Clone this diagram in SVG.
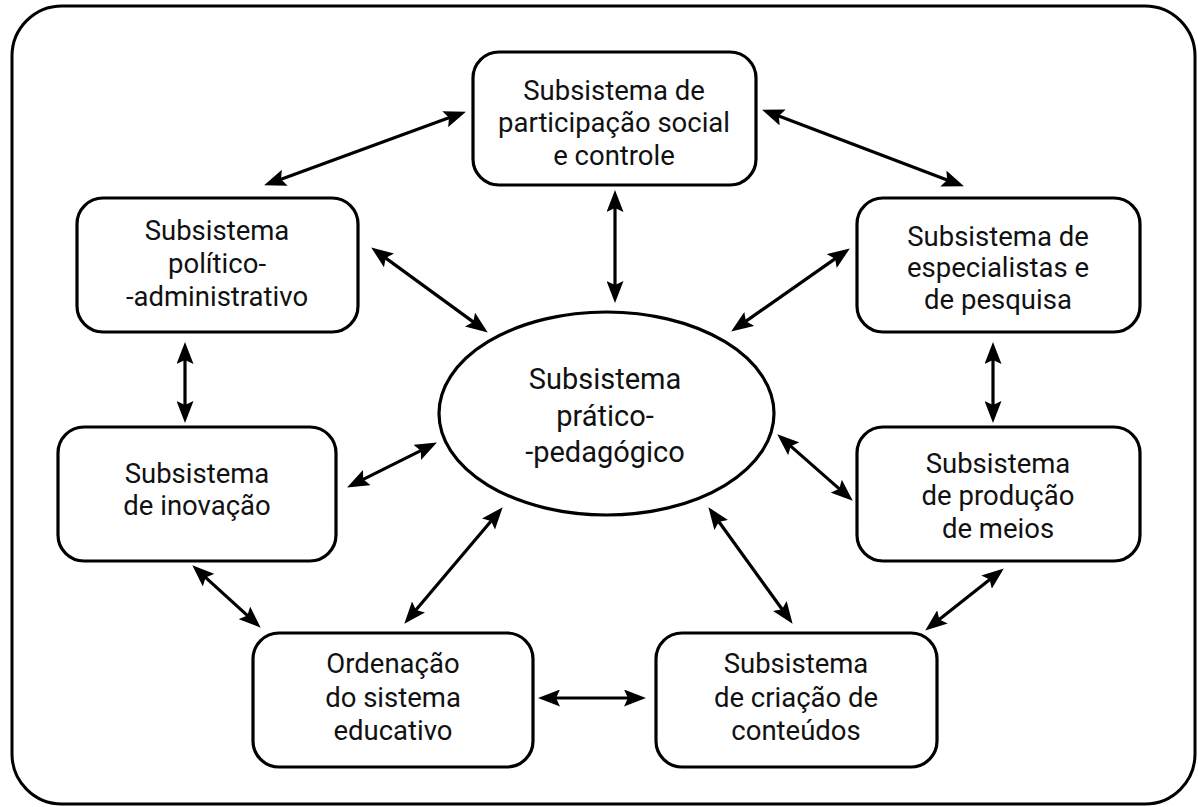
<svg xmlns="http://www.w3.org/2000/svg" width="1198" height="807" viewBox="0 0 1198 807">
<style>
.frame{fill:#fff;stroke:#000;stroke-width:3}
.box{fill:#fff;stroke:#000;stroke-width:3.2}
.t{font-family:Roboto,"Liberation Sans",sans-serif;font-size:27.5px;fill:#111;text-anchor:middle}
.te{font-family:Roboto,"Liberation Sans",sans-serif;font-size:29px;fill:#111;text-anchor:middle}
.c line{stroke:#000;stroke-width:3.2;marker-start:url(#ah);marker-end:url(#ah)}
</style>
<defs>
<marker id="ah" viewBox="0 0 22 17" refX="9" refY="8.5" markerWidth="22" markerHeight="17" markerUnits="userSpaceOnUse" orient="auto-start-reverse">
<path d="M0,0 L22,8.5 L0,17 L4,8.5 Z" fill="#000"/>
</marker>
</defs>
<rect width="1198" height="807" fill="#fff"/>
<rect class="frame" x="12" y="6" width="1183" height="798" rx="50" ry="50"/>
<g class="c" id="connectors">
<line x1="453.7" y1="116.1" x2="276.3" y2="180.9"/>
<line x1="774.2" y1="114.3" x2="951.8" y2="181.7"/>
<line x1="615" y1="203" x2="615" y2="290"/>
<line x1="381.7" y1="255.1" x2="477.3" y2="324.9"/>
<line x1="839.2" y1="255.9" x2="741.8" y2="324.1"/>
<line x1="185" y1="355" x2="185" y2="410"/>
<line x1="993" y1="355" x2="993" y2="410"/>
<line x1="358.7" y1="481.6" x2="425.3" y2="448.4"/>
<line x1="787" y1="442.9" x2="843" y2="492.1"/>
<line x1="201.9" y1="574.1" x2="251.1" y2="618.9"/>
<line x1="494.3" y1="517.2" x2="412.7" y2="613.8"/>
<line x1="716" y1="517.7" x2="785" y2="613.3"/>
<line x1="551" y1="698" x2="633" y2="698"/>
<line x1="993.6" y1="576.5" x2="935.4" y2="622.5"/>
</g>
<g id="n-participacao">
<rect class="box" x="473" y="52" width="283" height="133" rx="26"/>
<text class="t" x="614" y="100">Subsistema de</text>
<text class="t" x="614" y="132">participação social</text>
<text class="t" x="614" y="165">e controle</text>
</g>
<g id="n-politico">
<rect class="box" x="77" y="198" width="281" height="134" rx="26"/>
<text class="t" x="217" y="240">Subsistema</text>
<text class="t" x="217" y="273">político-</text>
<text class="t" x="217" y="306">-administrativo</text>
</g>
<g id="n-especialistas">
<rect class="box" x="857" y="198" width="283" height="134" rx="26"/>
<text class="t" x="998" y="246">Subsistema de</text>
<text class="t" x="998" y="277">especialistas e</text>
<text class="t" x="998" y="309">de pesquisa</text>
</g>
<g id="n-pratico">
<ellipse class="box" cx="606.5" cy="413.5" rx="167.5" ry="101.5"/>
<text class="te" x="605" y="389">Subsistema</text>
<text class="te" x="605" y="426">prático-</text>
<text class="te" x="605" y="462">-pedagógico</text>
</g>
<g id="n-inovacao">
<rect class="box" x="58" y="427" width="278" height="134" rx="26"/>
<text class="t" x="197" y="483">Subsistema</text>
<text class="t" x="197" y="515">de inovação</text>
</g>
<g id="n-producao">
<rect class="box" x="857" y="427" width="283" height="134" rx="26"/>
<text class="t" x="998" y="473">Subsistema</text>
<text class="t" x="998" y="505">de produção</text>
<text class="t" x="998" y="538">de meios</text>
</g>
<g id="n-ordenacao">
<rect class="box" x="253" y="633" width="280" height="134" rx="26"/>
<text class="t" x="393" y="673">Ordenação</text>
<text class="t" x="393" y="707">do sistema</text>
<text class="t" x="393" y="740">educativo</text>
</g>
<g id="n-criacao">
<rect class="box" x="656" y="633" width="281" height="134" rx="26"/>
<text class="t" x="796" y="673">Subsistema</text>
<text class="t" x="796" y="707">de criação de</text>
<text class="t" x="796" y="740">conteúdos</text>
</g>
</svg>
